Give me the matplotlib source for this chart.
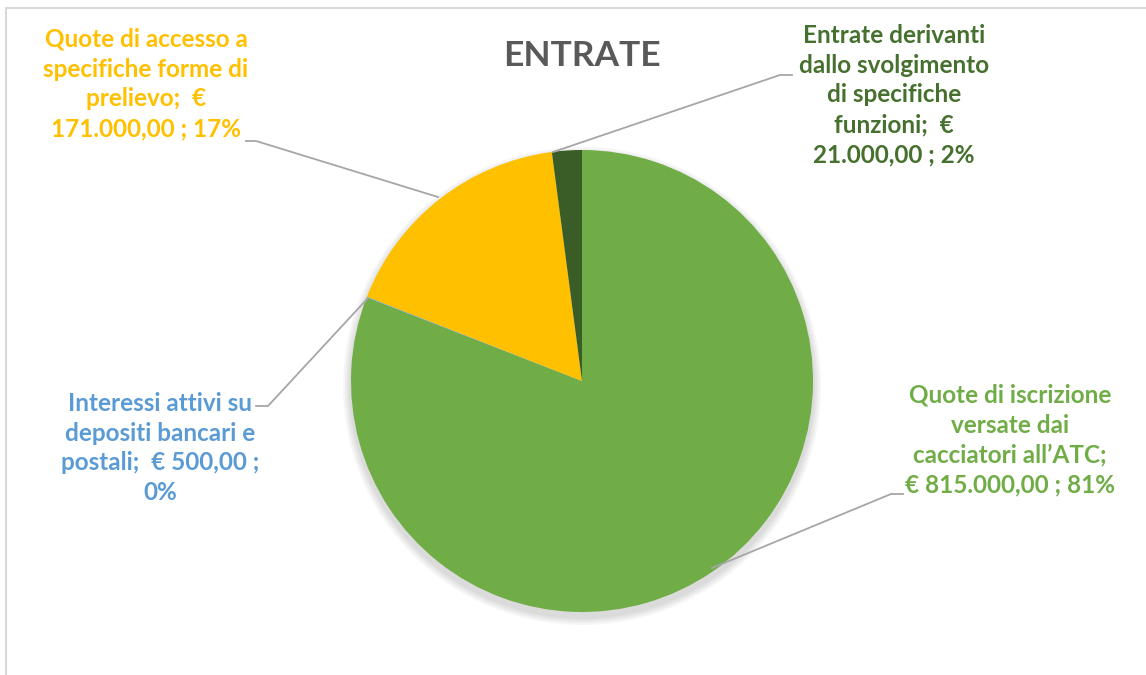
import matplotlib.pyplot as plt
from matplotlib.patches import Circle

# data
categories = ['Quote di iscrizione versate dai cacciatori all\u2019ATC',
              'Interessi attivi su depositi bancari e postali',
              'Quote di accesso a specifiche forme di prelievo',
              'Entrate derivanti dallo svolgimento di specifiche funzioni']
values = [815000, 500, 171000, 21000]
percent_labels = ['81%', '0%', '17%', '2%']
label_texts = [
    'Quote di iscrizione\nversate dai\ncacciatori all\u2019ATC;\n\u20ac 815.000,00 ; 81%',
    'Interessi attivi su\ndepositi bancari e\npostali;  \u20ac 500,00 ;\n0%',
    'Quote di accesso a\nspecifiche forme di\nprelievo;  \u20ac\n171.000,00 ; 17%',
    'Entrate derivanti\ndallo svolgimento\ndi specifiche\nfunzioni;  \u20ac\n21.000,00 ; 2%',
]
slice_colors = ['#70AD47', '#5B9BD5', '#FFC000', '#3A5D27']
text_colors = ['#70AD47', '#5B9BD5', '#FFC000', '#46702E']

W, H = 1146, 675
fig = plt.figure(figsize=(W / 100, H / 100), dpi=100)
ax = fig.add_axes([0, 0, 1, 1])

cx, cy, r = 582, 381, 231

# soft shadow under the pie
for i in range(4):
    ax.add_patch(Circle((cx, cy + 5), r + 2 + i * 2, color='black', alpha=0.035,
                        lw=0, zorder=1))

# y axis is inverted (pixel coords), so start at -90 and go "counterclockwise"
ax.pie(values, colors=slice_colors, startangle=-90, counterclock=True,
       center=(cx, cy), radius=r, frame=True,
       wedgeprops=dict(linewidth=0, zorder=2))
ax.set_xlim(0, W)
ax.set_ylim(H, 0)
ax.set_aspect('equal')
ax.axis('off')

# chart border (cropped)
ax.plot([5.5, 5.5, W], [H, 7.5, 7.5], color='#D9D9D9', lw=1.5, zorder=0)

font = dict(family=['Lato', 'DejaVu Sans'], weight='bold', fontsize=17.5,
            ha='center', va='center', linespacing=1.36)

label_pos = [(1010, 440), (160, 448), (146, 84), (894, 95)]
for txt, col, pos in zip(label_texts, text_colors, label_pos):
    ax.text(pos[0], pos[1], txt, color=col, **font)

# leader lines
leaders = [
    [(903, 494), (891, 494), (712, 568)],
    [(256, 406), (268, 406), (368, 298)],
    [(246, 141), (256, 141), (438, 197)],
    [(792, 75), (780, 75), (553, 152)],
]
for pts in leaders:
    xs, ys = zip(*pts)
    ax.plot(xs, ys, color='#A6A6A6', lw=1.3, zorder=3)

ax.text(582, 56, 'ENTRATE', color='#595959', family=['Lato', 'DejaVu Sans'],
        weight='bold', fontsize=25.5, ha='center', va='center')

fig.savefig('out.png', dpi=100)
